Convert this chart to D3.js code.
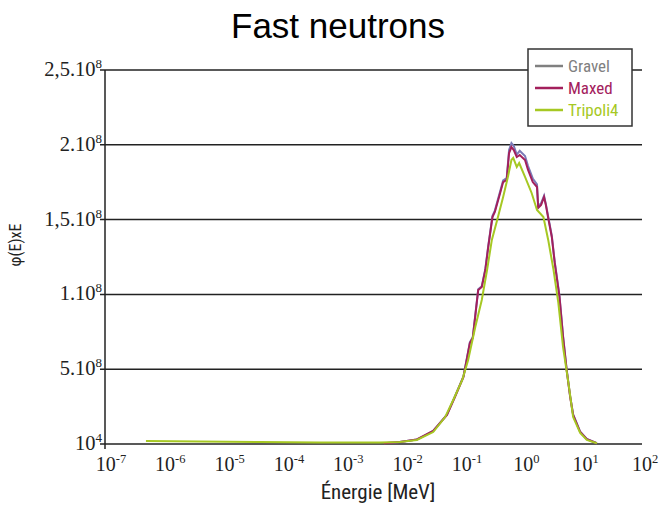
<!DOCTYPE html>
<html>
<head>
<meta charset="utf-8">
<script src="https://cdn.jsdelivr.net/npm/d3@7"></script>
<style>
  body { margin: 0; background: #fff; }
  .narrow { font-family: "Liberation Sans Narrow", "Roboto Condensed", "Liberation Sans", sans-serif; }
  .serif { font-family: "Liberation Serif", "DejaVu Serif", serif; }
</style>
</head>
<body>
<div id="chart"></div>
<script>
// data, energy in MeV, flux in units of 1e8
var energyTripoli = [4.9e-7, 4.0e-6, 4.1e-5, 4.2e-4, 4.3e-3, 9.3e-3, 0.018, 0.034, 0.054, 0.074, 0.105, 0.132, 0.174, 0.224, 0.275, 0.331, 0.407, 0.513, 0.617, 0.708, 0.759, 0.871, 0.955, 1.20, 1.55, 1.91, 2.45, 2.95, 3.63, 4.37, 5.25, 6.46, 7.76, 10.2, 13.2, 19.5];
var fluxTripoli = [0.020, 0.017, 0.013, 0.010, 0.010, 0.013, 0.027, 0.080, 0.180, 0.294, 0.428, 0.561, 0.782, 0.963, 1.163, 1.364, 1.497, 1.651, 1.785, 1.898, 1.912, 1.852, 1.878, 1.785, 1.678, 1.564, 1.517, 1.364, 1.163, 0.943, 0.648, 0.408, 0.180, 0.074, 0.027, 0.005];

var energyMaxed = [5.0e-3, 9.3e-3, 0.018, 0.034, 0.058, 0.079, 0.110, 0.141, 0.158, 0.195, 0.224, 0.257, 0.288, 0.339, 0.372, 0.457, 0.513, 0.589, 0.646, 0.708, 0.776, 0.871, 0.977, 1.20, 1.35, 1.62, 1.91, 2.00, 2.24, 2.51, 2.69, 2.95, 3.39, 3.80, 4.57, 5.25, 6.03, 6.92, 7.76, 10.2, 13.2, 19.5];
var fluxMaxed = [0.005, 0.013, 0.030, 0.087, 0.194, 0.314, 0.448, 0.675, 0.709, 1.029, 1.049, 1.163, 1.317, 1.517, 1.551, 1.678, 1.751, 1.765, 1.945, 1.985, 1.965, 1.918, 1.932, 1.898, 1.832, 1.751, 1.718, 1.578, 1.598, 1.651, 1.598, 1.511, 1.384, 1.210, 0.983, 0.715, 0.495, 0.314, 0.194, 0.080, 0.033, 0.005];

var energyGravel = [5.0e-3, 9.3e-3, 0.018, 0.034, 0.058, 0.079, 0.110, 0.141, 0.158, 0.195, 0.224, 0.257, 0.288, 0.339, 0.372, 0.457, 0.513, 0.589, 0.646, 0.708, 0.776, 0.871, 0.977, 1.20, 1.35, 1.62, 1.91, 2.00, 2.24, 2.51, 2.69, 2.95, 3.39, 3.80, 4.57, 5.25, 6.03, 6.92, 7.76, 10.2, 13.2, 19.5];
var fluxGravel = [0.005, 0.013, 0.030, 0.088, 0.196, 0.318, 0.452, 0.680, 0.715, 1.035, 1.055, 1.170, 1.325, 1.525, 1.560, 1.690, 1.762, 1.778, 1.965, 2.012, 1.992, 1.935, 1.960, 1.925, 1.858, 1.775, 1.735, 1.590, 1.610, 1.660, 1.605, 1.520, 1.392, 1.218, 0.990, 0.722, 0.500, 0.318, 0.198, 0.082, 0.034, 0.005];

var seriesNames = ["Gravel", "Maxed", "Tripoli4"];
var seriesColors = ["#7b7bb8", "#a3205c", "#a6c823"];
var legendColors = ["#808080", "#a3205c", "#a6c823"];

var yTickValues = [0, 0.5, 1, 1.5, 2, 2.5];
var yTickBase = ["10", "5.10", "1.10", "1,5.10", "2.10", "2,5.10"];
var yTickSup = ["4", "8", "8", "8", "8", "8"];
var xTickExp = [-7, -6, -5, -4, -3, -2, -1, 0, 1, 2];

/* ****** Sizes ****** */
var width = 663;
var height = 505;

var svg = d3.select("#chart")
    .append("svg")
    .attr("width", width)
    .attr("height", height);

var x = d3.scaleLog()
    .domain([1e-7, 1e2])
    .range([105, 639]);

var y = d3.scaleLinear()
    .domain([0, 2.5])
    .range([444, 70]);

/* ****** Grid + y labels ****** */
var grid = svg.append("g");
grid.selectAll("line")
    .data(yTickValues)
    .enter()
    .append("line")
    .attr("x1", 100)
    .attr("x2", 642)
    .attr("y1", function(d) { return y(d); })
    .attr("y2", function(d) { return y(d); })
    .attr("stroke", "#222")
    .attr("stroke-width", 1.5);

var ylab = svg.append("g").attr("class", "serif");
yTickValues.forEach(function(v, i) {
    var t = ylab.append("text")
        .attr("x", 102)
        .attr("y", y(v) + 6)
        .attr("text-anchor", "end")
        .attr("font-size", 20.5)
        .attr("fill", "#222");
    t.append("tspan").text(yTickBase[i]);
    t.append("tspan").attr("font-size", 13).attr("dy", -8).text(yTickSup[i]);
});

// y axis line
svg.append("line")
    .attr("x1", 105).attr("x2", 105)
    .attr("y1", y(2.5)).attr("y2", 449)
    .attr("stroke", "#222")
    .attr("stroke-width", 1.5);

/* ****** X labels ****** */
var xlab = svg.append("g").attr("class", "serif");
xTickExp.forEach(function(e) {
    var t = xlab.append("text")
        .attr("x", x(Math.pow(10, e)) + 6)
        .attr("y", 471)
        .attr("text-anchor", "middle")
        .attr("font-size", 20)
        .attr("fill", "#222");
    t.append("tspan").text("10");
    t.append("tspan").attr("font-size", 12.5).attr("dy", -8).text(e);
});

/* ****** Lines ****** */
var line = d3.line()
    .x(function(d) { return x(d[0]); })
    .y(function(d) { return y(d[1]); });

var series = [
    d3.zip(energyGravel, fluxGravel),
    d3.zip(energyMaxed, fluxMaxed),
    d3.zip(energyTripoli, fluxTripoli)
];

svg.append("g")
    .selectAll("path")
    .data(series)
    .enter()
    .append("path")
    .attr("d", line)
    .attr("fill", "none")
    .attr("stroke", function(d, i) { return seriesColors[i]; })
    .attr("stroke-width", 2);

/* ****** Legend ****** */
var legend = svg.append("g").attr("class", "narrow");
legend.append("rect")
    .attr("x", 528).attr("y", 49)
    .attr("width", 104).attr("height", 77)
    .attr("fill", "#fff")
    .attr("stroke", "#333")
    .attr("stroke-width", 1.5);

seriesNames.forEach(function(name, i) {
    var ly = 66 + i * 22;
    legend.append("line")
        .attr("x1", 535).attr("x2", 563)
        .attr("y1", ly).attr("y2", ly)
        .attr("stroke", legendColors[i])
        .attr("stroke-width", 2.5);
    legend.append("text")
        .attr("x", 568)
        .attr("y", ly + 6)
        .attr("font-size", 17)
        .attr("fill", legendColors[i])
        .text(name);
});

/* ****** Titles ****** */
svg.append("text")
    .attr("x", 338)
    .attr("y", 38)
    .attr("text-anchor", "middle")
    .attr("font-family", "Liberation Sans, Arial, sans-serif")
    .attr("font-size", 35)
    .text("Fast neutrons");

svg.append("text")
    .attr("class", "narrow")
    .attr("x", 378)
    .attr("y", 499)
    .attr("text-anchor", "middle")
    .attr("font-size", 21)
    .attr("fill", "#222")
    .text("Énergie [MeV]");

svg.append("text")
    .attr("class", "narrow")
    .attr("transform", "translate(21,245) rotate(-90)")
    .attr("text-anchor", "middle")
    .attr("font-size", 16)
    .attr("fill", "#222")
    .text("φ(E)xE");
</script>
</body>
</html>
